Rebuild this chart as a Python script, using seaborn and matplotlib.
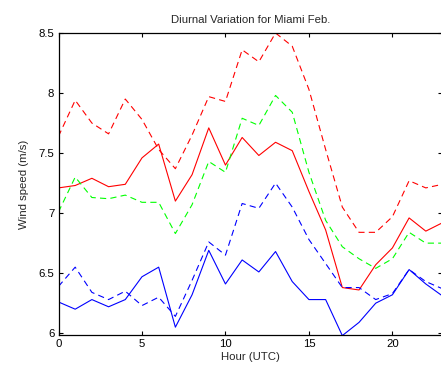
import numpy as np
import pandas as pd
import matplotlib
matplotlib.use("Agg")
import matplotlib.pyplot as plt
import seaborn as sns

hours = list(range(24))

upper_red = [7.64, 7.94, 7.75, 7.66, 7.95, 7.78, 7.53, 7.37, 7.65, 7.97, 7.93, 8.36,
             8.26, 8.50, 8.39, 8.03, 7.53, 7.05, 6.84, 6.84, 6.97, 7.27, 7.21, 7.24]
mean_red = [7.21, 7.23, 7.29, 7.22, 7.24, 7.46, 7.575, 7.10, 7.32, 7.71, 7.40, 7.63,
            7.48, 7.59, 7.52, 7.18, 6.86, 6.38, 6.36, 6.57, 6.71, 6.96, 6.85, 6.92]
green_dash = [7.01, 7.30, 7.13, 7.12, 7.15, 7.09, 7.09, 6.83, 7.07, 7.43, 7.34, 7.79,
              7.73, 7.98, 7.84, 7.34, 6.94, 6.72, 6.62, 6.54, 6.62, 6.84, 6.75, 6.75]
blue_dash = [6.39, 6.55, 6.34, 6.28, 6.35, 6.23, 6.30, 6.14, 6.44, 6.76, 6.65, 7.08,
             7.04, 7.25, 7.05, 6.78, 6.58, 6.38, 6.38, 6.28, 6.33, 6.53, 6.43, 6.37]
mean_blue = [6.26, 6.20, 6.28, 6.22, 6.28, 6.47, 6.55, 6.05, 6.32, 6.69, 6.41, 6.61,
             6.51, 6.68, 6.43, 6.28, 6.28, 5.98, 6.09, 6.25, 6.32, 6.53, 6.41, 6.31]

series = [
    ("upper_red", upper_red, "#ff0000", True),
    ("mean_red", mean_red, "#ff0000", False),
    ("green_dash", green_dash, "#00ff00", True),
    ("blue_dash", blue_dash, "#0000ff", True),
    ("mean_blue", mean_blue, "#0000ff", False),
]

sns.set_style("ticks")
plt.rcParams["font.family"] = ["Liberation Sans", "DejaVu Sans"]

W, H = 441, 374
fig = plt.figure(figsize=(W / 100, H / 100), dpi=100)
fig.patch.set_facecolor("white")
left, right, top, bottom = 58.5, 442.5, 33, 335
ax = fig.add_axes([left / W, (H - bottom) / H, (right - left) / W, (bottom - top) / H])

lw = 0.8
fs = 8.2
for name, vals, color, dashed in series:
    df = pd.DataFrame({"hour": hours, "speed": vals})
    line_kw = dict(dashes=(5.6, 3.8)) if dashed else {}
    sns.lineplot(data=df, x="hour", y="speed", ax=ax, color=color, linewidth=lw,
                 estimator=None, **line_kw)

ax.set_xlim(0, 23)
ax.set_ylim(5.985, 8.5)
ax.set_xticks([0, 5, 10, 15, 20])
ax.set_yticks([6, 6.5, 7, 7.5, 8, 8.5])
ax.set_yticklabels(["6", "6.5", "7", "7.5", "8", "8.5"])
ax.tick_params(direction="in", length=3, width=0.8, labelsize=fs, colors="black",
               top=True, right=True, pad=3)
for s in ax.spines.values():
    s.set_visible(True)
    s.set_linewidth(0.9)
    s.set_color("black")

ax.set_xlabel("Hour (UTC)", fontsize=fs, labelpad=2)
ax.set_ylabel("Wind speed (m/s)", fontsize=fs, labelpad=7)
ax.set_title("Diurnal Variation for Miami Feb.", fontsize=fs, pad=7)

fig.savefig("out.png", dpi=100, facecolor="white")
